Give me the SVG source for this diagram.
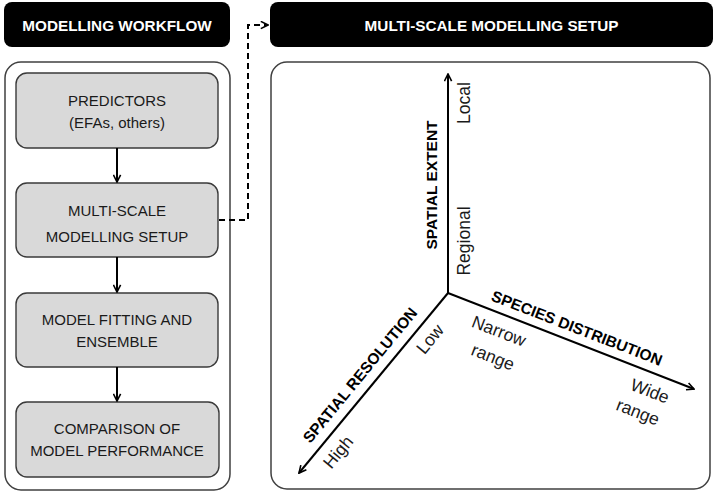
<svg xmlns="http://www.w3.org/2000/svg" width="716" height="496" viewBox="0 0 716 496">
<style>
.hdr{fill:#000}
.hdrt{font-family:"Liberation Sans",Arial,sans-serif;font-weight:bold;font-size:15.3px;fill:#fff;text-anchor:middle}
.panel{fill:#fff;stroke:#404040;stroke-width:1.5}
.box{fill:#d9d9d9;stroke:#3a3a3a;stroke-width:1.4}
.bt{font-family:"Liberation Sans",Arial,sans-serif;font-size:15px;fill:#1a1a1a;text-anchor:middle}
.ax{stroke:#000;stroke-width:2;fill:none}
.axb{font-family:"Liberation Sans",Arial,sans-serif;font-weight:bold;font-size:15.5px;fill:#000;text-anchor:middle}
.axt{font-family:"Liberation Sans",Arial,sans-serif;font-size:17.5px;fill:#1a1a1a;text-anchor:middle}
.flow{stroke:#000;stroke-width:2;fill:none}
</style>
<defs>
<marker id="arr" viewBox="0 0 10 10" refX="9" refY="5" markerWidth="9" markerHeight="9" markerUnits="userSpaceOnUse" orient="auto">
<path d="M1,1 L9,5 L1,9" fill="none" stroke="#000" stroke-width="1.8"/>
</marker>
</defs>

<g id="header-workflow">
<rect class="hdr" x="4" y="2" width="226" height="45" rx="8"/>
<text class="hdrt" x="117" y="31">MODELLING WORKFLOW</text>
</g>
<g id="header-setup">
<rect class="hdr" x="270" y="2" width="443" height="45" rx="8"/>
<text class="hdrt" x="491.5" y="31">MULTI-SCALE MODELLING SETUP</text>
</g>

<g id="panel-workflow">
<rect class="panel" x="5" y="62" width="225" height="428" rx="16"/>
</g>
<g id="panel-setup">
<rect class="panel" x="271" y="62" width="439" height="427" rx="16"/>
</g>

<g id="node-predictors">
<rect class="box" x="16" y="73" width="202" height="75" rx="11"/>
<text class="bt" x="117" y="106">PREDICTORS</text>
<text class="bt" x="117" y="128">(EFAs, others)</text>
</g>
<g id="node-multiscale">
<rect class="box" x="16" y="183" width="202" height="74" rx="11"/>
<text class="bt" x="117" y="216">MULTI-SCALE</text>
<text class="bt" x="117" y="242">MODELLING SETUP</text>
</g>
<g id="node-fitting">
<rect class="box" x="16" y="293" width="202" height="74" rx="11"/>
<text class="bt" x="117" y="325">MODEL FITTING AND</text>
<text class="bt" x="117" y="347">ENSEMBLE</text>
</g>
<g id="node-comparison">
<rect class="box" x="16" y="402" width="203" height="75" rx="11"/>
<text class="bt" x="117" y="434">COMPARISON OF</text>
<text class="bt" x="117" y="456">MODEL PERFORMANCE</text>
</g>

<g id="connectors">
<line class="flow" x1="117" y1="148" x2="117" y2="182" marker-end="url(#arr)"/>
<line class="flow" x1="117" y1="257" x2="117" y2="292" marker-end="url(#arr)"/>
<line class="flow" x1="117" y1="367" x2="117" y2="401" marker-end="url(#arr)"/>
<path class="flow" d="M219,220 H248 V25 H268" stroke-dasharray="6,4" marker-end="url(#arr)"/>
</g>

<g id="axes">
<line class="ax" x1="448" y1="293" x2="448" y2="74" marker-end="url(#arr)"/>
<line class="ax" x1="448" y1="293" x2="694" y2="389" marker-end="url(#arr)"/>
<line class="ax" x1="448" y1="293" x2="299" y2="473" marker-end="url(#arr)"/>
</g>

<g id="labels-extent">
<text class="axb" transform="translate(431,185) rotate(-90)" y="5.5">SPATIAL EXTENT</text>
<text class="axt" transform="translate(464,103) rotate(-90)" y="6">Local</text>
<text class="axt" transform="translate(464,241) rotate(-90)" y="6">Regional</text>
</g>
<g id="labels-species">
<text class="axb" transform="translate(577,328) rotate(21.2)" y="5.5">SPECIES DISTRIBUTION</text>
<text class="axt" transform="translate(499,331) rotate(21.2)" y="6">Narrow</text>
<text class="axt" transform="translate(493,357) rotate(21.2)" y="6">range</text>
<text class="axt" transform="translate(650,391) rotate(21.2)" y="6">Wide</text>
<text class="axt" transform="translate(638,412) rotate(21.2)" y="6">range</text>
</g>
<g id="labels-resolution">
<text class="axb" transform="translate(360,375) rotate(-50.5)" y="5.5">SPATIAL RESOLUTION</text>
<text class="axt" transform="translate(430,339) rotate(-50.5)" y="6">Low</text>
<text class="axt" transform="translate(338,452) rotate(-50.5)" y="6">High</text>
</g>
</svg>
